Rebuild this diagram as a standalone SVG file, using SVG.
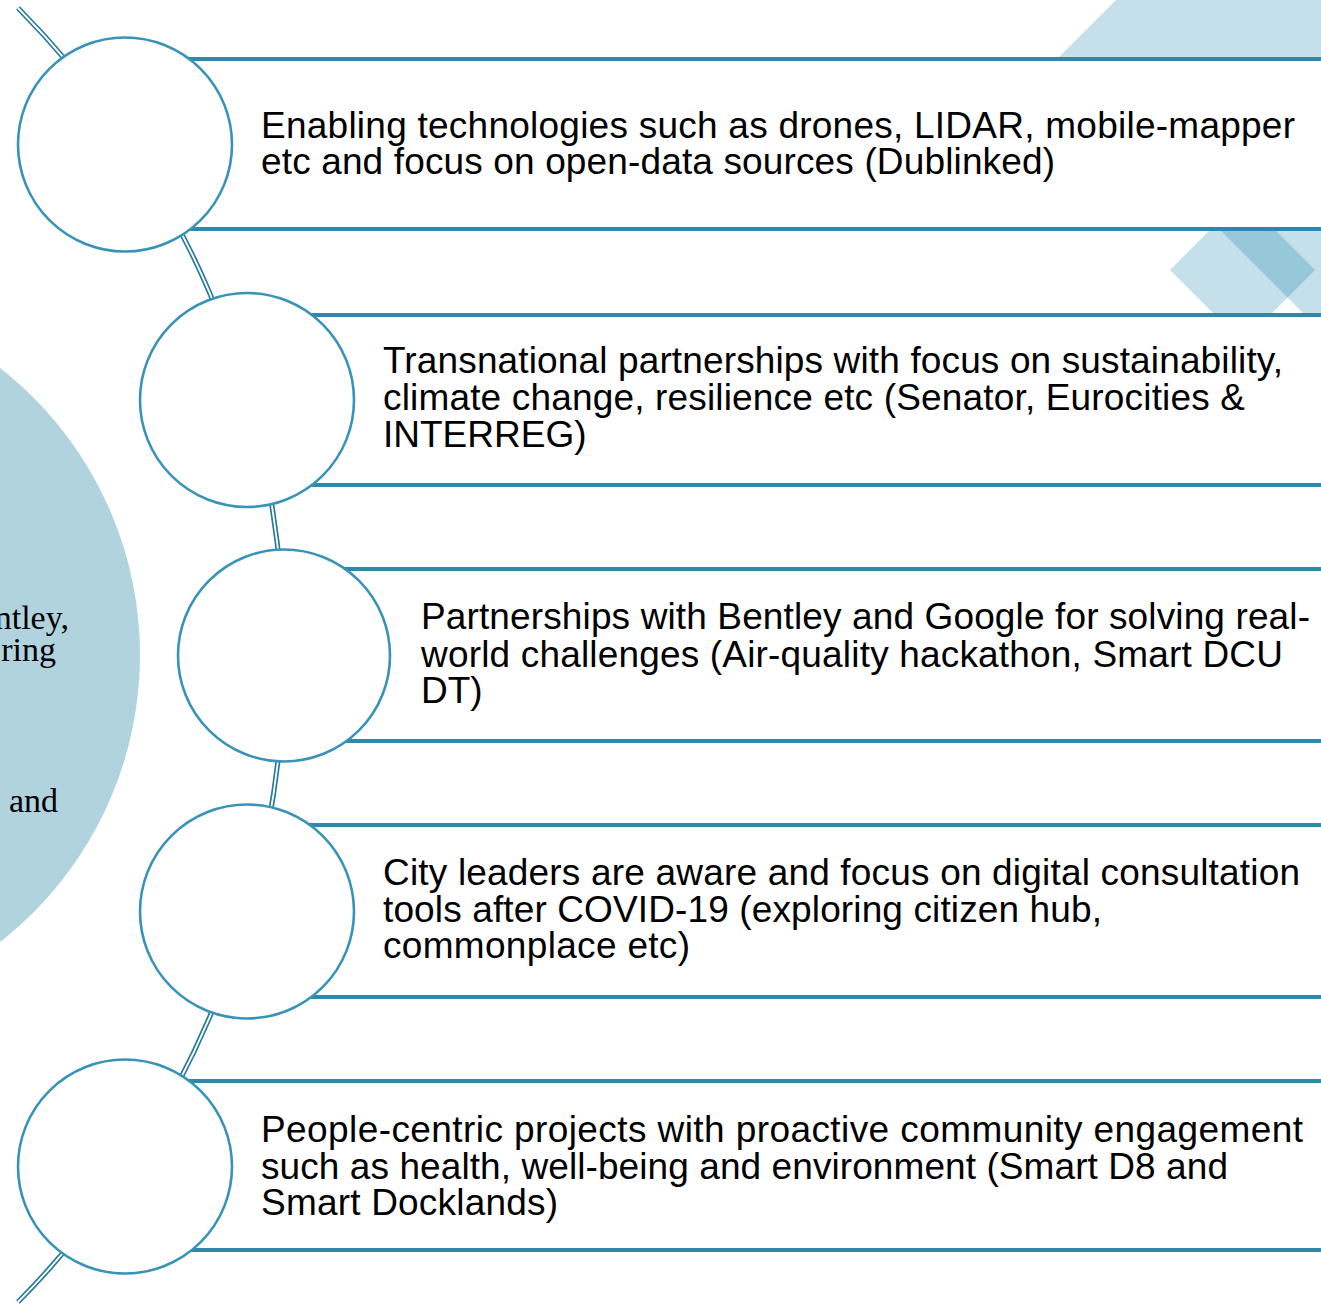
<svg xmlns="http://www.w3.org/2000/svg" width="1321" height="1304" viewBox="0 0 1321 1304">
<defs>
<style>
.deco{fill:#047ba6;fill-opacity:0.235}
.bar{fill:#ffffff;stroke:#2e88ab;stroke-width:4}
.node{fill:#ffffff;stroke:#3893b8;stroke-width:2.6}
.t{font-family:"Liberation Sans",Arial,sans-serif;font-size:37px;fill:#000000}
.s{font-family:"Liberation Serif","Times New Roman",serif;font-size:34px;fill:#000000;text-anchor:end}
</style>
</defs>
<rect x="0" y="0" width="1321" height="1304" fill="#ffffff"/>
<g id="decorations">
<polygon class="deco" points="1057,59 1116,0 1321,0 1321,59"/>
<polygon class="deco" points="1170,270 1242.5,197.5 1315,270 1242.5,342.5"/>
<polygon class="deco" points="1190,200 1390,0 1590,200 1390,400"/>
</g>
<g id="big-circle">
<circle cx="-224" cy="655" r="364" fill="#b1d3de"/>
<text class="s" x="69" y="629">ntley,</text>
<text class="s" x="56" y="661">ring</text>
<text class="s" x="58" y="812">and</text>
</g>
<g id="connectors">
<path d="M 18 8 A 920 920 0 0 1 18 1302" fill="none" stroke="#2a7b9b" stroke-width="5.2"/>
<path d="M 18 8 A 920 920 0 0 1 18 1302" fill="none" stroke="#ffffff" stroke-width="1.8"/>
</g>
<g id="item1">
<rect class="bar" x="125" y="59" width="1300" height="170"/>
<circle class="node" cx="125" cy="144.5" r="107"/>
<text class="t" x="261" y="138" textLength="1034" lengthAdjust="spacing">Enabling technologies such as drones, LIDAR, mobile-mapper</text>
<text class="t" x="261" y="174" textLength="794" lengthAdjust="spacing">etc and focus on open-data sources (Dublinked)</text>
</g>
<g id="item2">
<rect class="bar" x="247" y="315" width="1300" height="170"/>
<circle class="node" cx="247" cy="400" r="107"/>
<text class="t" x="383" y="373" textLength="900" lengthAdjust="spacing">Transnational partnerships with focus on sustainability,</text>
<text class="t" x="383" y="410" textLength="862" lengthAdjust="spacing">climate change, resilience etc (Senator, Eurocities &amp;</text>
<text class="t" x="383" y="447">INTERREG)</text>
</g>
<g id="item3">
<rect class="bar" x="284" y="569" width="1300" height="172"/>
<circle class="node" cx="284" cy="655.5" r="106"/>
<text class="t" x="421" y="629" textLength="889" lengthAdjust="spacing">Partnerships with Bentley and Google for solving real-</text>
<text class="t" x="421" y="667" textLength="862" lengthAdjust="spacing">world challenges (Air-quality hackathon, Smart DCU</text>
<text class="t" x="421" y="703">DT)</text>
</g>
<g id="item4">
<rect class="bar" x="247" y="825" width="1300" height="172"/>
<circle class="node" cx="247" cy="911.5" r="107"/>
<text class="t" x="383" y="885" textLength="917" lengthAdjust="spacing">City leaders are aware and focus on digital consultation</text>
<text class="t" x="383" y="922" textLength="719" lengthAdjust="spacing">tools after COVID-19 (exploring citizen hub,</text>
<text class="t" x="383" y="958" textLength="307" lengthAdjust="spacing">commonplace etc)</text>
</g>
<g id="item5">
<rect class="bar" x="125" y="1081" width="1300" height="169"/>
<circle class="node" cx="125" cy="1166.5" r="107"/>
<text class="t" x="261" y="1142" textLength="1042" lengthAdjust="spacing">People-centric projects with proactive community engagement</text>
<text class="t" x="261" y="1179" textLength="967" lengthAdjust="spacing">such as health, well-being and environment (Smart D8 and</text>
<text class="t" x="261" y="1215" textLength="297" lengthAdjust="spacing">Smart Docklands)</text>
</g>
</svg>
